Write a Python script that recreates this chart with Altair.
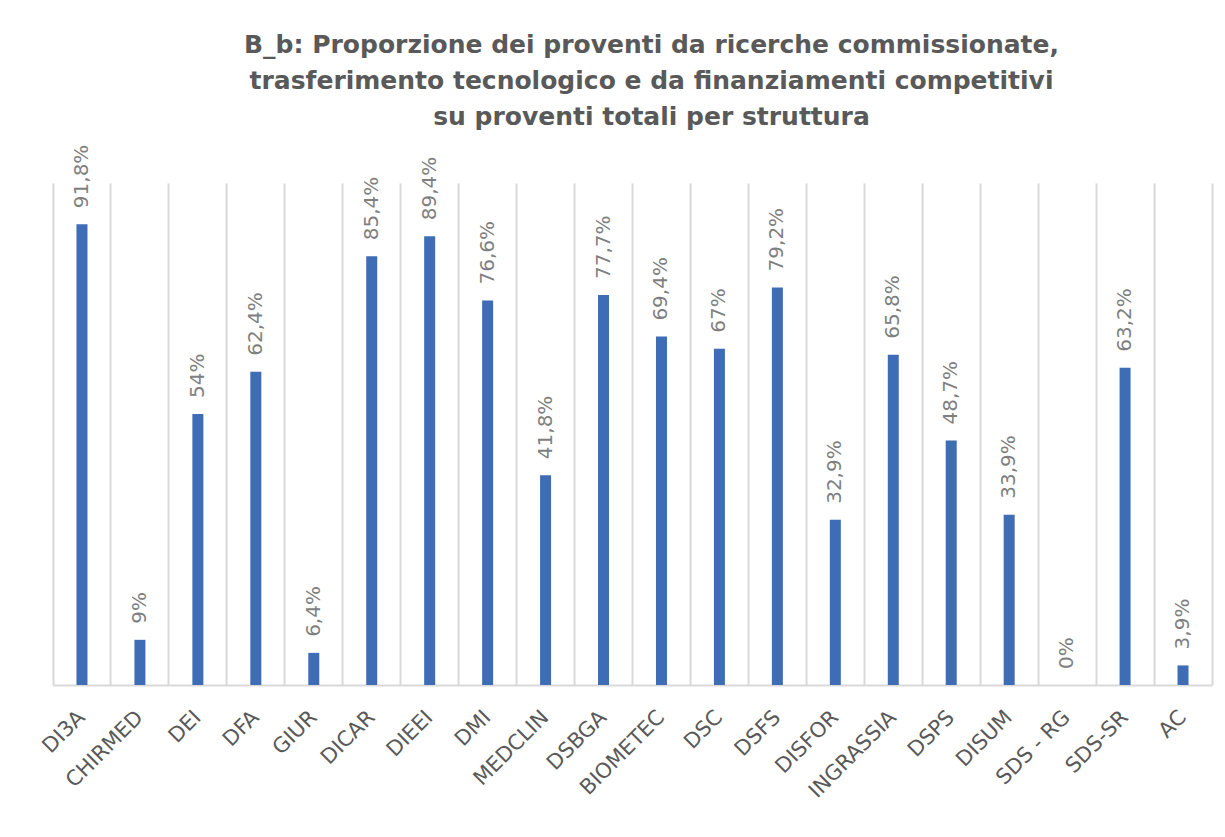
import altair as alt
import pandas as pd

categories = ["DI3A", "CHIRMED", "DEI", "DFA", "GIUR", "DICAR", "DIEEI", "DMI", "MEDCLIN",
              "DSBGA", "BIOMETEC", "DSC", "DSFS", "DISFOR", "INGRASSIA", "DSPS", "DISUM",
              "SDS - RG", "SDS-SR", "AC"]
values_pct = [91.8, 9, 54, 62.4, 6.4, 85.4, 89.4, 76.6, 41.8, 77.7, 69.4, 67, 79.2, 32.9,
              65.8, 48.7, 33.9, 0, 63.2, 3.9]


def fmt(v):
    s = ("%.1f" % v).rstrip("0").rstrip(".")
    return s.replace(".", ",") + "%"


df = pd.DataFrame({
    "struttura": categories,
    "valore": [v / 100 for v in values_pct],
    "etichetta": [fmt(v) for v in values_pct],
})

x = alt.X("struttura:N", sort=categories, title=None,
          scale=alt.Scale(paddingInner=0, paddingOuter=0),
          axis=alt.Axis(labelAngle=-45, labelFont="DejaVu Sans", labelFontSize=21,
                        labelColor="#595959", labelPadding=29, ticks=False,
                        domain=True, domainColor="#d9d9d9", domainWidth=2,
                        grid=True, gridColor="#d9d9d9", gridWidth=2, bandPosition=0,
                        labelAlign="right", labelBaseline="middle"))
y = alt.Y("valore:Q", scale=alt.Scale(domain=[0, 1]), title=None,
          axis=alt.Axis(orient="right", labels=False, ticks=False, grid=False,
                        domain=True, domainColor="#d9d9d9", domainWidth=2))

base = alt.Chart(df).encode(x=x, y=y)
bars = base.mark_bar(color="#3e6db5", size=11)
labels = base.mark_text(angle=270, align="left", baseline="middle", dx=16,
                        font="DejaVu Sans", fontSize=20, color="#7f7f7f").encode(
    text="etichetta:N")

chart = (bars + labels).properties(
    width=1159, height=502,
    autosize=alt.AutoSizeParams(type="none"),
    padding={"left": 45, "top": 175, "right": 5, "bottom": 140},
    title=alt.TitleParams(
        ["B_b: Proporzione dei proventi da ricerche commissionate,",
         "trasferimento tecnologico e da finanziamenti competitivi",
         "su proventi totali per struttura"],
        font="DejaVu Sans", fontSize=25, fontWeight="bold", color="#595959",
        lineHeight=36, offset=15, anchor="middle", dx=19),
).configure_view(stroke=None)

chart.save("out.html", embed_options={"renderer": "svg", "actions": False})
